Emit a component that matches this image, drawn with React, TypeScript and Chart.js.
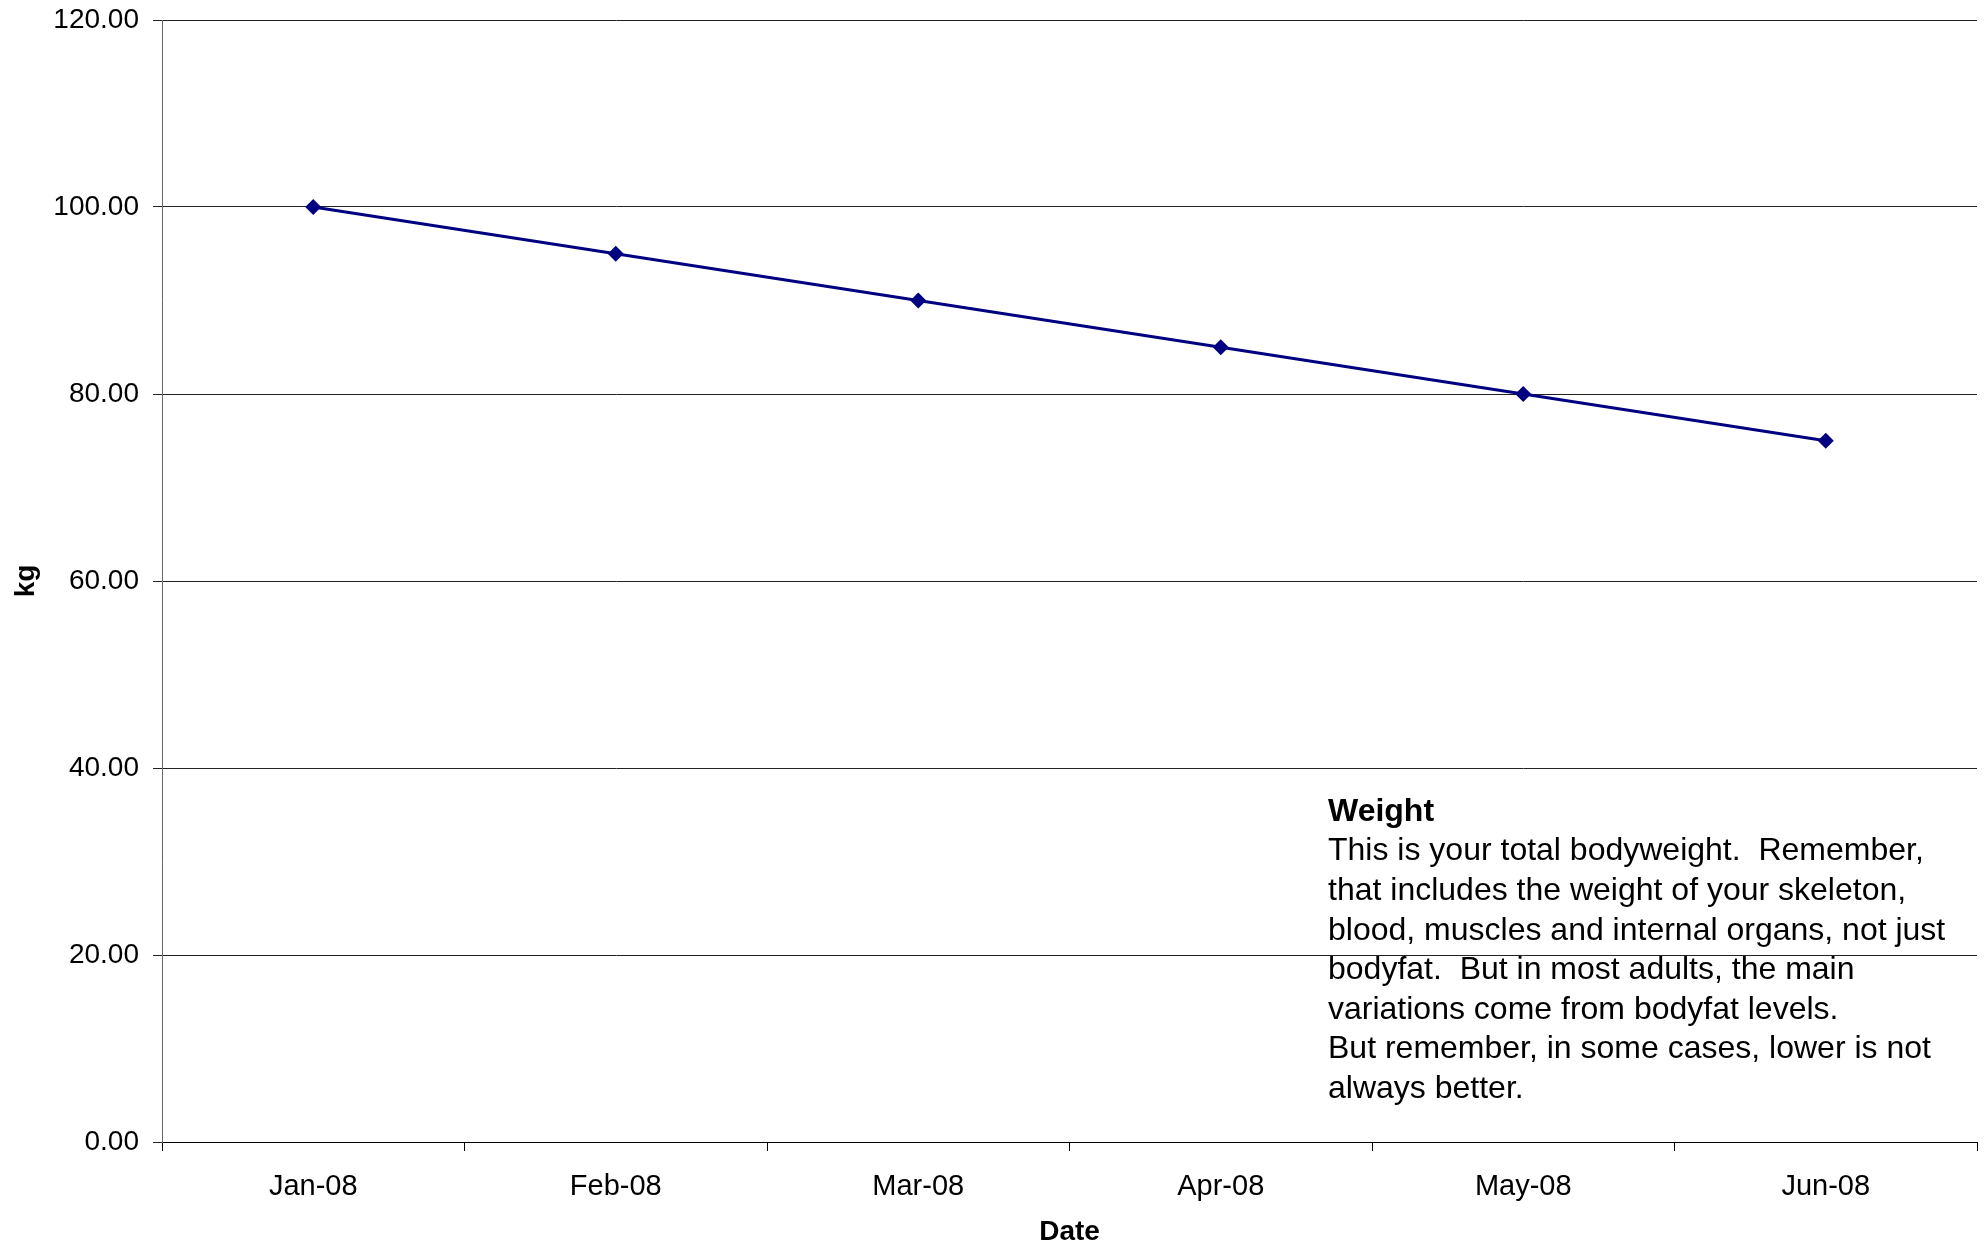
import React, { useEffect, useRef } from "react";
import { Chart, registerables } from "chart.js";

Chart.register(...registerables);

// Monthly bodyweight readings
const months = ["Jan-08", "Feb-08", "Mar-08", "Apr-08", "May-08", "Jun-08"];
const weightKg = [100, 95, 90, 85, 80, 75];

// Value axis
const yMin = 0;
const yMax = 120;
const yStep = 20;

const xTitle = "Date";
const yTitle = "kg";

// Explanatory note shown inside the plot
const noteTitle = "Weight";
const noteLines = [
  "This is your total bodyweight.  Remember,",
  "that includes the weight of your skeleton,",
  "blood, muscles and internal organs, not just",
  "bodyfat.  But in most adults, the main",
  "variations come from bodyfat levels.",
  "But remember, in some cases, lower is not",
  "always better.",
];

const W = 1986;
const H = 1246;
const SANS = "'Liberation Sans', Arial, sans-serif";
const NARROW = "'Liberation Sans Narrow', 'Arial Narrow', 'Liberation Sans', sans-serif";

const notePlugin = {
  id: "notePlugin",
  afterDraw(chart: any) {
    const { ctx, chartArea } = chart;
    const x = chartArea.left + 1166;
    let y = chartArea.top + 792;
    const lh = 39.6;
    ctx.save();
    ctx.fillStyle = "#000";
    ctx.textAlign = "left";
    ctx.textBaseline = "middle";
    ctx.font = `bold 32px ${NARROW}`;
    ctx.fillText(noteTitle, x, y);
    ctx.font = `32px ${NARROW}`;
    for (const line of noteLines) {
      y += lh;
      ctx.fillText(line, x, y);
    }
    ctx.restore();
  },
};

export default function App() {
  const ref = useRef<HTMLCanvasElement | null>(null);

  useEffect(() => {
    document.body.style.margin = "0";
    const canvas = ref.current;
    if (!canvas) return;
    const chart = new Chart(canvas, {
      type: "line",
      data: {
        labels: months,
        datasets: [
          {
            label: noteTitle,
            data: weightKg,
            borderColor: "#000080",
            backgroundColor: "#000080",
            borderWidth: 3,
            pointStyle: "rectRot",
            pointRadius: 8,
            pointHoverRadius: 8,
            pointBorderWidth: 0,
            tension: 0,
            fill: false,
          },
        ],
      },
      options: {
        responsive: false,
        animation: false,
        events: [],
        layout: { padding: { top: 20, right: 9, left: 0, bottom: 0 } },
        plugins: {
          legend: { display: false },
          tooltip: { enabled: false },
          title: { display: false },
        },
        scales: {
          x: {
            type: "category",
            offset: true,
            afterFit: (s: any) => {
              s.height = 104;
              s.paddingLeft = 0;
              s.paddingRight = 0;
            },
            grid: {
              offset: true,
              drawOnChartArea: false,
              drawTicks: true,
              tickLength: 9,
              color: "#000",
              lineWidth: 1,
            },
            border: { display: true, color: "#000", width: 1 },
            ticks: {
              color: "#000",
              padding: 19,
              maxRotation: 0,
              font: { family: NARROW, size: 29 },
            },
            title: {
              display: true,
              text: xTitle,
              color: "#000",
              font: { family: SANS, size: 28, weight: "bold", lineHeight: 1.0 },
              padding: { top: 0, bottom: 0 },
            },
          },
          y: {
            min: yMin,
            max: yMax,
            afterFit: (s: any) => {
              s.width = 162;
              s.paddingTop = 0;
              s.paddingBottom = 0;
            },
            ticks: {
              stepSize: yStep,
              color: "#000",
              padding: 14,
              font: { family: SANS, size: 28 },
              callback: (v: any) => Number(v).toFixed(2),
            },
            grid: {
              color: "#222",
              lineWidth: 1,
              drawTicks: true,
              tickLength: 9,
            },
            border: { display: true, color: "#666", width: 1 },
            title: {
              display: true,
              text: yTitle,
              color: "#000",
              font: { family: SANS, size: 28, weight: "bold" },
              padding: { top: 9, bottom: 0 },
            },
          },
        },
      },
      plugins: [notePlugin],
    });
    return () => chart.destroy();
  }, []);

  return (
    <div style={{ position: "relative", width: W, height: H, background: "#fff" }}>
      <canvas ref={ref} width={W} height={H} style={{ display: "block", width: W, height: H }} />
    </div>
  );
}
